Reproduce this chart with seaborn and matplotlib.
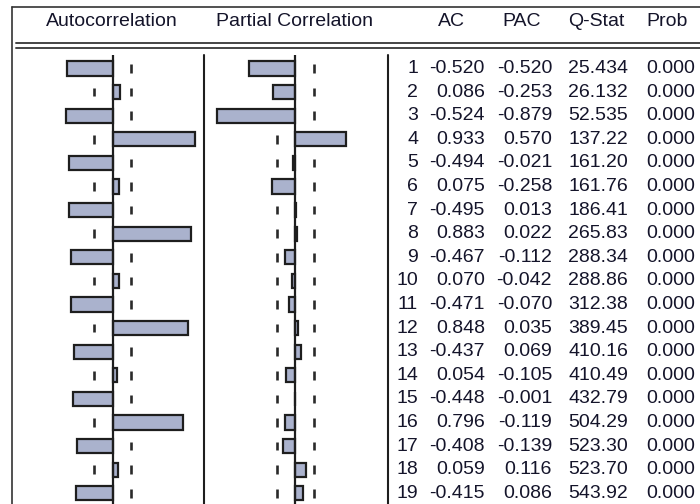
import matplotlib
matplotlib.use("Agg")
import matplotlib.pyplot as plt
from matplotlib.lines import Line2D
import seaborn as sns
import pandas as pd

lags = list(range(1, 20))
ac = [-0.520, 0.086, -0.524, 0.933, -0.494, 0.075, -0.495, 0.883, -0.467, 0.070,
      -0.471, 0.848, -0.437, 0.054, -0.448, 0.796, -0.408, 0.059, -0.415]
pac = [-0.520, -0.253, -0.879, 0.570, -0.021, -0.258, 0.013, 0.022, -0.112, -0.042,
       -0.070, 0.035, 0.069, -0.105, -0.001, -0.119, -0.139, 0.116, 0.086]
qstat = [25.434, 26.132, 52.535, 137.22, 161.20, 161.76, 186.41, 265.83, 288.34, 288.86,
         312.38, 389.45, 410.16, 410.49, 432.79, 504.29, 523.30, 523.70, 543.92]
prob = [0.000] * 19
conf_band = 0.21
headers = ["AC", "PAC", "Q-Stat", "Prob"]

df = pd.DataFrame({"lag": lags, "ac": ac, "pac": pac})

sns.set_style("white")
plt.rcParams["font.family"] = ["Liberation Sans", "DejaVu Sans"]

W, H = 700, 504
fig = plt.figure(figsize=(7, 5.04), dpi=100)
txt_col = "#14142a"
line_col = "#1e1e1e"
bar_col = "#aab2cd"
fs = 14


def fx(x):
    return x / W


def fy(y):
    return 1 - y / H


def hline(y, x0, x1, lw=1.2, color="#444444"):
    fig.add_artist(Line2D([fx(x0), fx(x1)], [fy(y), fy(y)], transform=fig.transFigure,
                          color=color, lw=lw))


def vline(x, y0, y1, lw=1.5, color=line_col):
    fig.add_artist(Line2D([fx(x), fx(x)], [fy(y0), fy(y1)], transform=fig.transFigure,
                          color=color, lw=lw))


# row geometry: first lag centre at y=68.5 px, step 23.6 px; panels start at y=55
top_px, row0, step = 55, 68.5, 23.6
ylim = ((H - row0) / step, (top_px - row0) / step)
scale = 88.6  # px per unit of correlation


def panel(x0, x1, zero, col):
    ax = fig.add_axes([fx(x0), 0, (x1 - x0) / W, (H - top_px) / H])
    sns.barplot(data=df, x=col, y="lag", orient="h", ax=ax, color=bar_col,
                saturation=1, width=0.6, edgecolor=line_col, linewidth=1.6, zorder=2)
    ax.vlines([-conf_band, conf_band] * len(lags),
              [i - 0.18 for i in range(len(lags)) for _ in (0, 1)],
              [i + 0.18 for i in range(len(lags)) for _ in (0, 1)],
              color="#2a2a2a", lw=1.9, zorder=1)
    ax.axvline(0, color=line_col, lw=1.6, zorder=3)
    ax.set_xlim((x0 - zero) / scale, (x1 - zero) / scale)
    ax.set_ylim(*ylim)
    ax.axis("off")
    return ax


ax_ac = panel(12, 204, 112.7, "ac")
ax_pac = panel(204, 388, 295.3, "pac")

# table of numbers
ax_t = fig.add_axes([fx(388), 0, (W - 388) / W, (H - top_px) / H])
ax_t.set_xlim(388, W)
ax_t.set_ylim(*ylim)
ax_t.axis("off")
for i in range(len(lags)):
    q = qstat[i]
    qs = f"{q:.3f}" if q < 100 else f"{q:.2f}"
    cells = [(418, str(lags[i])), (485, f"{ac[i]:.3f}"), (552, f"{pac[i]:.3f}"),
             (628, qs), (695, f"{prob[i]:.3f}")]
    for x, s in cells:
        ax_t.text(x, i, s, ha="right", va="center", fontsize=fs, color=txt_col)

# headers and frame
fig.text(fx(112), fy(21.5), "Autocorrelation", ha="center", va="center",
         fontsize=fs, color=txt_col)
fig.text(fx(295), fy(21.5), "Partial Correlation", ha="center", va="center",
         fontsize=fs, color=txt_col)
for x, s in zip([451, 522, 596, 667], headers):
    fig.text(fx(x), fy(21.5), s, ha="center", va="center", fontsize=fs, color=txt_col)

vline(12, 7, H, lw=1.2, color="#333333")
hline(7, 12, W, lw=1.2, color="#333333")
hline(43, 16, W, lw=1.4)
hline(47.5, 16, W, lw=1.4)
vline(204, top_px, H)
vline(388, top_px, H)

fig.savefig("out.png", dpi=100)
